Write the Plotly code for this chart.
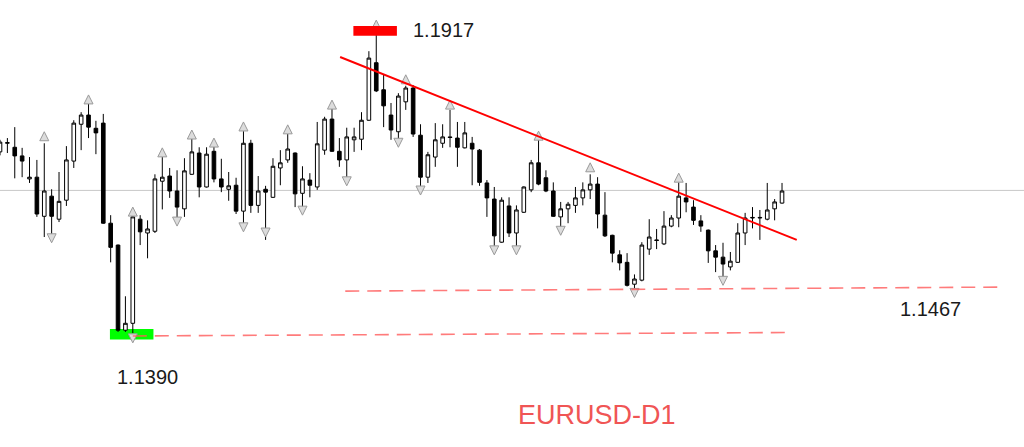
import plotly.graph_objects as go

# ---- data (EURUSD D1) ----
idx = list(range(107))
opens = [1.1705,1.1720,1.1713,1.1698,1.1658,1.1661,1.1593,1.1628,1.1588,1.1621,
         1.1689,1.1753,1.1769,1.1746,1.1755,1.1581,1.1543,1.1395,1.1407,1.1588,
         1.1564,1.1567,1.1654,1.1663,1.1637,1.1606,1.1666,1.1703,1.1644,1.1706,
         1.1658,1.1640,1.1647,1.1602,1.1720,1.1612,1.1640,1.1626,1.1677,1.1691,
         1.1703,1.1633,1.1656,1.1644,1.1708,1.1762,1.1706,1.1691,1.1726,1.1727,
         1.1760,1.1860,1.1813,1.1769,1.1740,1.1792,1.1816,1.1734,1.1661,1.1696,
         1.1720,1.1731,1.1729,1.1712,1.1720,1.1708,1.1651,1.1623,1.1548,1.1611,
         1.1564,1.1600,1.1639,1.1686,1.1660,1.1637,1.1592,1.1606,1.1612,1.1625,
         1.1639,1.1649,1.1595,1.1560,1.1526,1.1513,1.1475,1.1482,1.1536,1.1552,
         1.1545,1.1576,1.1590,1.1625,1.1609,1.1585,1.1569,1.1533,1.1522,1.1505,
         1.1513,1.1564,1.1590,1.1590,1.1588,1.1606,1.1616]
highs = [1.1726,1.1729,1.1748,1.1712,1.1696,1.1691,1.1720,1.1640,1.1670,1.1715,
         1.1760,1.1774,1.1790,1.1759,1.1771,1.1595,1.1544,1.1454,1.1593,1.1595,
         1.1586,1.1666,1.1696,1.1677,1.1673,1.1694,1.1729,1.1713,1.1713,1.1715,
         1.1693,1.1670,1.1660,1.1741,1.1726,1.1663,1.1646,1.1694,1.1708,1.1736,
         1.1704,1.1680,1.1668,1.1757,1.1766,1.1780,1.1729,1.1747,1.1747,1.1774,
         1.1880,1.1917,1.1839,1.1790,1.1807,1.1820,1.1821,1.1753,1.1705,1.1755,
         1.1753,1.1778,1.1757,1.1757,1.1731,1.1710,1.1656,1.1644,1.1626,1.1626,
         1.1612,1.1645,1.1691,1.1726,1.1673,1.1652,1.1618,1.1618,1.1644,1.1652,
         1.1666,1.1661,1.1635,1.1561,1.1534,1.1529,1.1492,1.1548,1.1588,1.1571,
         1.1602,1.1595,1.1652,1.1651,1.1621,1.1595,1.1570,1.1543,1.1547,1.1531,
         1.1581,1.1599,1.1609,1.1604,1.1651,1.1623,1.1651]
lows = [1.1699,1.1703,1.1659,1.1661,1.1651,1.1592,1.1557,1.1552,1.1583,1.1611,
        1.1677,1.1708,1.1729,1.1701,1.1580,1.1513,1.1392,1.1392,1.1390,1.1543,
        1.1520,1.1564,1.1605,1.1625,1.1585,1.1592,1.1665,1.1626,1.1643,1.1652,
        1.1635,1.1620,1.1597,1.1578,1.1599,1.1599,1.1552,1.1625,1.1647,1.1686,
        1.1609,1.1606,1.1626,1.1639,1.1700,1.1705,1.1679,1.1656,1.1705,1.1708,
        1.1759,1.1809,1.1748,1.1726,1.1725,1.1778,1.1731,1.1642,1.1651,1.1679,
        1.1712,1.1713,1.1679,1.1711,1.1647,1.1646,1.1592,1.1538,1.1547,1.1557,
        1.1538,1.1599,1.1635,1.1647,1.1635,1.1592,1.1572,1.1581,1.1599,1.1612,
        1.1623,1.1572,1.1557,1.1513,1.1499,1.1471,1.1467,1.1480,1.1526,1.1536,
        1.1543,1.1574,1.1574,1.1600,1.1578,1.1566,1.1512,1.1496,1.1486,1.1499,
        1.1512,1.1543,1.1572,1.1552,1.1586,1.1586,1.1615]
closes = [1.1722,1.1721,1.1698,1.1689,1.1661,1.1597,1.1637,1.1593,1.1619,1.1691,
          1.1755,1.1769,1.1748,1.1738,1.1581,1.1539,1.1395,1.1407,1.1592,1.1566,
          1.1571,1.1658,1.1661,1.1637,1.1609,1.1672,1.1705,1.1644,1.1701,1.1658,
          1.1644,1.1646,1.1602,1.1720,1.1612,1.1637,1.1635,1.1680,1.1686,1.1710,
          1.1632,1.1658,1.1647,1.1719,1.1762,1.1706,1.1691,1.1731,1.1731,1.1760,
          1.1868,1.1811,1.1785,1.1743,1.1802,1.1816,1.1736,1.1661,1.1700,1.1726,
          1.1731,1.1730,1.1713,1.1738,1.1710,1.1652,1.1625,1.1559,1.1621,1.1564,
          1.1604,1.1644,1.1686,1.1649,1.1637,1.1593,1.1606,1.1614,1.1625,1.1639,
          1.1649,1.1597,1.1559,1.1529,1.1512,1.1473,1.1484,1.1543,1.1557,1.1551,
          1.1576,1.1590,1.1628,1.1618,1.1586,1.1576,1.1533,1.1522,1.1510,1.1515,
          1.1564,1.1590,1.1591,1.1591,1.1604,1.1618,1.1637]

up_idx = [6, 12, 18, 22, 26, 29, 33, 39, 45, 51, 55, 61, 73, 80, 92]
up_price = [1.1740, 1.1804, 1.1609, 1.1712, 1.1743, 1.1729, 1.1757, 1.1752,
            1.1795, 1.1934, 1.1839, 1.1795, 1.1741, 1.1686, 1.1668]
dn_idx = [7, 18, 24, 33, 36, 41, 47, 54, 57, 67, 70, 76, 86, 98]
dn_price = [1.1547, 1.1373, 1.1576, 1.1566, 1.1557, 1.1595, 1.1646, 1.1713,
            1.1630, 1.1526, 1.1526, 1.1560, 1.1452, 1.1473]

high_label = "1.1917"
low_label = "1.1390"
support_label = "1.1467"
bid_price = 1.1638
title_text = "EURUSD-D1"

trend_x = [46.1, 108.0]
trend_y = [1.1870, 1.1552]
support_x = [46.8, 135.8]
support_y = [1.1463, 1.1470]
low_line_x = [18.0, 107.1]
low_line_y = [1.1385, 1.1391]

fig = go.Figure()
fig.add_trace(go.Candlestick(
    x=idx, open=opens, high=highs, low=lows, close=closes,
    increasing=dict(fillcolor="white", line=dict(color="black", width=1)),
    decreasing=dict(fillcolor="black", line=dict(color="black", width=1)),
    hoverinfo="skip", showlegend=False,
))
fig.add_trace(go.Scatter(
    x=up_idx, y=up_price, mode="markers", hoverinfo="skip", showlegend=False,
    marker=dict(symbol="arrow-up", size=9, color="#dcdcdc",
                line=dict(color="#9a9a9a", width=1)),
))
fig.add_trace(go.Scatter(
    x=dn_idx, y=dn_price, mode="markers", hoverinfo="skip", showlegend=False,
    marker=dict(symbol="arrow-down", size=9, color="#dcdcdc",
                line=dict(color="#9a9a9a", width=1)),
))

shapes = [
    dict(type="line", xref="paper", x0=0, x1=1, yref="y", y0=bid_price, y1=bid_price,
         line=dict(color="#c8c8c8", width=1), layer="below"),
    dict(type="line", x0=trend_x[0], x1=trend_x[1], y0=trend_y[0], y1=trend_y[1],
         line=dict(color="#ff0000", width=2)),
    dict(type="line", x0=support_x[0], x1=support_x[1], y0=support_y[0], y1=support_y[1],
         line=dict(color="rgba(255,90,90,0.8)", width=1.6, dash="14px,8px")),
    dict(type="line", x0=low_line_x[0], x1=low_line_x[1], y0=low_line_y[0], y1=low_line_y[1],
         line=dict(color="rgba(255,90,90,0.8)", width=1.6, dash="14px,8px")),
    dict(type="rect", x0=47.9, x1=53.8, y0=1.1907, y1=1.1924,
         fillcolor="#ff0000", line=dict(width=0)),
    dict(type="rect", x0=14.9, x1=20.8, y0=1.1379, y1=1.1397,
         fillcolor="#00ff00", line=dict(width=0), layer="below"),
]

font_main = "Liberation Sans, Arial, sans-serif"
annotations = [
    dict(x=60.1, y=1.1917, text=high_label, showarrow=False, yanchor="middle",
         font=dict(family=font_main, size=20, color="#1a1a1a")),
    dict(x=20.0, y=1.1313, text=low_label, showarrow=False, yanchor="middle",
         font=dict(family=font_main, size=20, color="#1a1a1a")),
    dict(x=126.1, y=1.1432, text=support_label, showarrow=False, yanchor="middle",
         font=dict(family=font_main, size=20, color="#1a1a1a")),
    dict(xref="paper", yref="paper", x=0.583, y=0.072, text=title_text, showarrow=False,
         yanchor="middle", xanchor="center",
         font=dict(family=font_main, size=27, color="#f05555")),
]

fig.update_layout(
    width=1024, height=447,
    margin=dict(l=0, r=0, t=0, b=0),
    paper_bgcolor="white", plot_bgcolor="white",
    shapes=shapes, annotations=annotations,
    xaxis=dict(range=[0, 138.8], visible=False, rangeslider=dict(visible=False),
               fixedrange=True),
    yaxis=dict(range=[1.1192, 1.1969], visible=False, fixedrange=True),
    hovermode=False,
)
fig.write_html("out.html", config={"displayModeBar": False},
               post_script="document.body.style.margin='0';")
